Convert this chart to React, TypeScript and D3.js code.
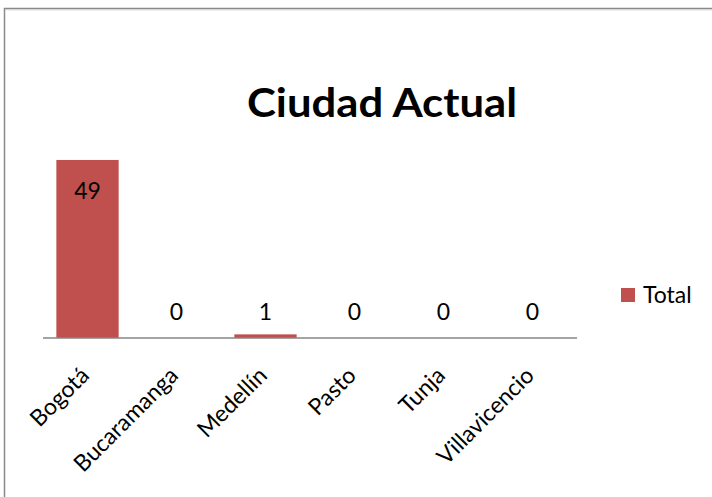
import React from "react";
import * as d3 from "d3";

const categories = ["Bogotá", "Bucaramanga", "Medellín", "Pasto", "Tunja", "Villavicencio"];
const totals = [49, 0, 1, 0, 0, 0];
const seriesName = "Total";
const title = "Ciudad Actual";

const W = 712;
const H = 497;
const FONT = "Lato, 'Open Sans', sans-serif";
const BAR = "#C0504D";

export default function App() {
  const x = d3.scaleBand<string>().domain(categories).range([43, 577]).paddingInner(0.3).paddingOuter(0.15);
  const y = d3.scaleLinear().domain([0, 60]).range([338, 120]);
  const axisY = y(0);

  return (
    <svg width={W} height={H} style={{ position: "absolute", left: 0, top: 0, background: "#fff" }}>
      <rect x={4.5} y={8.5} width={W + 10} height={H + 10} fill="#fff" stroke="#8a8a8a" strokeWidth={1.5} />
      <line x1={5.5} y1={9.8} x2={W} y2={9.8} stroke="#d0d0d0" strokeWidth={1} />
      <text
        x={382}
        y={117}
        textAnchor="middle"
        fontFamily={FONT}
        fontWeight="bold"
        fontSize={41}
        textLength={270}
        lengthAdjust="spacingAndGlyphs"
        fill="#000"
      >
        {title}
      </text>
      {categories.map((c, i) => {
        const v = totals[i];
        const bx = x(c)!;
        const bw = x.bandwidth();
        const top = y(v);
        const inside = axisY - top > 60;
        return (
          <g key={c}>
            <rect x={bx} y={top} width={bw} height={axisY - top} fill={BAR} />
            <text
              x={bx + bw / 2}
              y={inside ? top + 39 : Math.min(top - 14, axisY - 18)}
              textAnchor="middle"
              fontFamily={FONT}
              fontSize={23}
              fill="#000"
            >
              {v}
            </text>
          </g>
        );
      })}
      <line x1={43} x2={577} y1={axisY} y2={axisY} stroke="#868686" strokeWidth={1.5} />
      {categories.map((c) => {
        const cx = x(c)! + x.bandwidth() / 2;
        return (
          <text
            key={"l" + c}
            transform={`translate(${cx + 3},${axisY + 39}) rotate(-45)`}
            textAnchor="end"
            fontFamily={FONT}
            fontSize={23}
            fill="#000"
          >
            {c}
          </text>
        );
      })}
      <rect x={621} y={288} width={14} height={14} fill={BAR} />
      <text x={643} y={303} fontFamily={FONT} fontSize={23} fill="#000">
        {seriesName}
      </text>
    </svg>
  );
}
